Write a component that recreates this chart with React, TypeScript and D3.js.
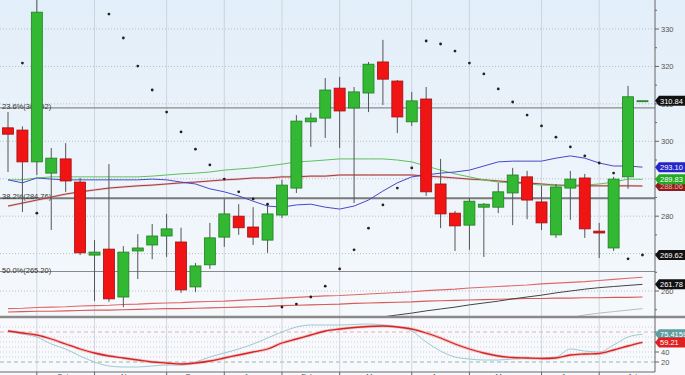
import React from "react";
import * as d3 from "d3";

// weekly candles
const open = [303.6, 303.0, 294.5, 291.5, 295.3, 289.1, 269.6, 271.2, 258.4, 270.7, 272.3, 274.7, 273.1, 261.1, 267.0, 274.4, 280.0, 277.1, 273.6, 280.3, 287.5, 305.2, 306.2, 314.2, 308.9, 312.9, 321.2, 316.1, 305.2, 311.3, 288.6, 280.8, 277.6, 282.4, 282.4, 286.2, 290.5, 283.8, 275.0, 287.5, 290.2, 276.0, 271.5, 290.5, 310.84];
const high = [307.8, 304.0, 339.0, 298.2, 299.5, 290.2, 273.6, 293.9, 272.0, 275.2, 277.9, 280.6, 276.9, 267.5, 278.2, 284.6, 283.2, 282.4, 283.0, 289.7, 307.0, 307.6, 316.9, 317.2, 314.5, 321.2, 327.1, 316.4, 313.2, 314.5, 295.3, 281.4, 284.8, 283.5, 288.9, 292.9, 292.1, 288.1, 288.6, 292.1, 291.3, 278.2, 290.5, 314.8, 310.84];
const low = [291.8, 281.1, 291.0, 276.3, 286.5, 269.6, 257.3, 257.1, 255.7, 263.2, 268.5, 269.1, 259.5, 259.7, 265.9, 271.8, 275.0, 272.3, 270.2, 279.5, 286.2, 298.5, 300.9, 298.2, 283.5, 307.8, 309.7, 302.2, 304.1, 285.4, 276.8, 270.7, 271.0, 269.1, 280.8, 277.6, 279.2, 276.3, 274.2, 279.0, 274.2, 268.8, 270.7, 287.3, 310.84];
const close = [301.9, 294.5, 334.5, 295.5, 289.4, 270.2, 270.4, 257.9, 270.4, 271.5, 274.7, 276.6, 260.3, 266.7, 274.2, 280.6, 276.9, 274.4, 280.6, 288.3, 305.4, 306.2, 313.7, 308.1, 313.2, 320.6, 316.6, 306.5, 310.8, 286.5, 280.6, 277.4, 284.0, 283.2, 286.5, 291.0, 284.3, 278.2, 287.8, 289.9, 276.6, 275.5, 289.9, 311.9, 310.84];

// moving averages
const maBlue = [289.7, 288.9, 290.2, 289.9, 289.7, 289.7, 289.7, 289.7, 289.7, 289.7, 289.9, 289.7, 289.1, 288.6, 287.3, 286.5, 285.4, 284.0, 282.7, 282.4, 283.0, 283.2, 282.4, 281.9, 282.7, 284.3, 286.7, 288.9, 290.5, 291.0, 291.5, 291.8, 292.3, 293.4, 294.5, 294.7, 294.7, 294.7, 295.5, 296.1, 295.5, 294.2, 293.4, 293.4, 293.1];
const maGreen = [289.7, 289.7, 290.2, 290.5, 290.5, 290.5, 290.5, 290.5, 290.5, 290.5, 290.7, 291.0, 291.3, 291.5, 291.8, 292.3, 292.6, 292.9, 293.4, 293.9, 294.5, 294.7, 295.0, 295.3, 295.3, 295.3, 295.3, 295.0, 294.5, 293.4, 292.3, 291.3, 290.5, 289.7, 289.1, 288.9, 288.6, 288.3, 288.3, 288.3, 288.3, 288.6, 289.1, 289.9, 289.83];
const maRed = [282.7, 283.5, 284.3, 285.1, 285.9, 286.5, 287.0, 287.5, 287.8, 288.1, 288.3, 288.6, 288.9, 289.1, 289.4, 289.7, 289.9, 290.2, 290.2, 290.5, 290.5, 290.7, 290.7, 291.0, 291.0, 291.0, 291.0, 291.0, 291.0, 290.7, 290.5, 290.2, 289.9, 289.7, 289.4, 289.1, 288.9, 288.6, 288.3, 288.1, 288.1, 288.1, 288.1, 288.1, 288.06];
const maLongA = [255.3, 255.4, 255.6, 255.7, 255.8, 256.0, 256.1, 256.2, 256.4, 256.5, 256.7, 256.8, 256.9, 257.1, 257.2, 257.3, 257.5, 257.7, 257.9, 258.1, 258.3, 258.5, 258.7, 258.8, 259.0, 259.2, 259.4, 259.6, 259.8, 260.1, 260.3, 260.5, 260.8, 261.0, 261.2, 261.4, 261.6, 261.9, 262.1, 262.3, 262.5, 262.8, 263.1, 263.4, 263.7];
const maLongB = [254.4, 254.5, 254.6, 254.6, 254.7, 254.8, 254.9, 254.9, 255.0, 255.1, 255.2, 255.3, 255.3, 255.4, 255.5, 255.6, 255.7, 255.8, 255.9, 256.1, 256.2, 256.3, 256.4, 256.5, 256.7, 256.8, 256.9, 257.0, 257.1, 257.3, 257.4, 257.5, 257.6, 257.7, 257.8, 257.9, 258.0, 258.0, 258.1, 258.1, 258.2, 258.2, 258.3, 258.3, 258.4];
const maBlack = [null, null, null, null, null, null, null, null, null, null, null, null, null, null, null, null, null, null, null, null, null, null, null, null, null, 252.6, 253.1, 253.6, 254.1, 254.7, 255.2, 255.7, 256.3, 256.8, 257.3, 257.9, 258.4, 258.9, 259.5, 260.0, 260.5, 260.9, 261.2, 261.5, 261.78];
const maGray = [null, null, null, null, null, null, null, null, null, null, null, null, null, null, null, null, null, null, null, null, null, null, null, null, null, null, null, null, null, null, null, null, null, null, null, null, null, null, null, 252.9, 253.6, 254.1, 254.5, 254.9, 255.3];

// parabolic SAR
const sar = [null, 320.9, 280.8, null, null, null, null, 334.0, 327.6, 320.1, 313.7, 307.8, 302.5, 297.9, 293.7, 289.9, 286.5, 284.6, 283.2, 255.7, 256.5, 258.4, 261.3, 265.9, 271.0, 276.8, 283.0, 287.5, 292.9, 326.8, 326.0, 324.1, 320.9, 318.0, 314.0, 310.5, 307.0, 304.1, 301.1, 298.5, 296.1, 294.2, 291.5, 268.6, 269.62];

// stochastic
const stochK = [82, 76, 70, 56, 46, 32, 20, 12, 10, 10, 12, 14, 14, 20, 30, 38, 46, 56, 68, 80, 90, 94, 94, 94, 95, 96, 94, 90, 82, 60, 42, 30, 26, 24, 24, 26, 27, 28, 30, 46, 42, 40, 54, 70, 75.4159];
const stochD = [82, 78, 74, 66, 56, 46, 38, 32, 28, 24, 20, 18, 16, 18, 22, 28, 34, 40, 46, 58, 66, 74, 82, 86, 89, 91, 92, 90, 86, 78, 68, 56, 46, 38, 32, 29, 28, 27, 28, 34, 36, 37, 44, 52, 59.21];

const fibNames = ["23.6%", "38.2%", "50.0%"];
const fibValues = [308.92, 284.76, 265.2];

const priceTicks = [260, 270, 280, 290, 300, 310, 320, 330];
const stochTicks = [20, 40, 60, 80];

const months = ["Sep", "Oct", "Nov", "Dec", "Jan", "Feb", "Mar", "Apr", "May", "Jun", "Jul"];
const monthStarts = [-3, 2, 6, 11, 15, 19, 23, 28, 32, 37, 41, 46];

const W = 685;
const H = 375;
const AX = 655;
const PANE_BOTTOM = 317;

export default function App() {
  const x = d3.scaleLinear().domain([-0.555, 44.87]).range([0, AX]);
  const yP = d3.scaleLinear().domain([253.06, 337.75]).range([PANE_BOTTOM, 0]);
  const yS = d3.scaleLinear().domain([0, 100]).range([372, 322]);

  const lineP = (vals: (number | null)[]) =>
    d3
      .line<number | null>()
      .defined((v) => v != null)
      .x((_, i) => x(i))
      .y((v) => yP(v as number))(vals) || "";
  const lineS = (vals: number[]) =>
    d3
      .line<number>()
      .x((_, i) => x(i))
      .y((v) => yS(v))
      .curve(d3.curveMonotoneX)(vals) || "";

  const bw = 11;
  const last = close.length - 1;

  const tag = (v: number, y: number, fill: string, txt: string, color = "#fff") => (
    <g key={txt + fill}>
      <path d={`M${AX},${y} L${AX + 4},${y - 5} L${W},${y - 5} L${W},${y + 5} L${AX + 4},${y + 5} Z`} fill={fill} />
      <text x={AX + 5} y={y + 3} fontSize={7.5} fill={color}>
        {txt}
      </text>
    </g>
  );

  return (
    <svg
      width={W}
      height={H}
      style={{ position: "absolute", left: 0, top: 0, display: "block" }}
      fontFamily="'Liberation Sans', Arial, sans-serif"
    >
      <defs>
        <linearGradient id="bg" x1="0" y1="0" x2="0" y2="1">
          <stop offset="0" stopColor="#e2eef9" />
          <stop offset="1" stopColor="#f6f9fc" />
        </linearGradient>
        <clipPath id="cp">
          <rect x={0} y={0} width={AX} height={PANE_BOTTOM - 1} />
        </clipPath>
        <clipPath id="cs">
          <rect x={0} y={319} width={AX} height={53} />
        </clipPath>
      </defs>

      <rect x={0} y={0} width={W} height={PANE_BOTTOM} fill="url(#bg)" />
      <rect x={0} y={PANE_BOTTOM} width={W} height={H - PANE_BOTTOM} fill="#f7f9fc" />

      {/* horizontal grid */}
      {priceTicks.map((t) => (
        <line key={t} x1={0} x2={AX} y1={yP(t)} y2={yP(t)} stroke="#a9b3bd" strokeWidth={0.8} strokeDasharray="1,2" />
      ))}
      {[30, 40, 50, 60, 70, 90].map((t) => (
        <line key={"s" + t} x1={0} x2={AX} y1={yS(t)} y2={yS(t)} stroke="#b8c0c8" strokeWidth={0.7} strokeDasharray="1,2" />
      ))}
      <line x1={0} x2={AX} y1={yS(80)} y2={yS(80)} stroke="#e2a0a0" strokeWidth={0.8} strokeDasharray="4,3" />
      <line x1={0} x2={AX} y1={yS(20)} y2={yS(20)} stroke="#7fa89a" strokeWidth={0.8} strokeDasharray="4,3" />

      {/* vertical month grid */}
      {monthStarts
        .filter((m) => m >= 0 && m <= last)
        .map((m) => (
          <line key={"v" + m} x1={x(m)} x2={x(m)} y1={0} y2={372} stroke="#c5ced7" strokeWidth={0.8} />
        ))}

      {/* fibonacci */}
      {fibValues.map((v, i) => (
        <g key={"f" + i}>
          <line x1={0} x2={AX} y1={yP(v)} y2={yP(v)} stroke={i === 1 ? "#7a7a7a" : "#8a8a8a"} strokeWidth={i === 1 ? 2 : 1.1} />
          <text x={2} y={yP(v) + 1} fontSize={7.5} fill="#333">
            {`${fibNames[i]}(${v.toFixed(2)})`}
          </text>
        </g>
      ))}

      <g clipPath="url(#cp)">
        <path d={lineP(maLongA)} fill="none" stroke="#e06868" strokeWidth={1.1} />
        <path d={lineP(maLongB)} fill="none" stroke="#d85a5a" strokeWidth={1.1} />
        <path d={lineP(maBlack)} fill="none" stroke="#444" strokeWidth={1} />
        <path d={lineP(maGray)} fill="none" stroke="#b9bcbf" strokeWidth={1} />
        <path d={lineP(maRed)} fill="none" stroke="#e0a0a0" strokeWidth={2.2} opacity={0.5} />
        <path d={lineP(maRed)} fill="none" stroke="#a83a3a" strokeWidth={1} />
        <path d={lineP(maGreen)} fill="none" stroke="#5cc25c" strokeWidth={1} />
        <path d={lineP(maBlue)} fill="none" stroke="#4848c8" strokeWidth={1} />

        {close.map((c, i) => {
          const up = c >= open[i];
          const top = yP(Math.max(open[i], c));
          const h = Math.max(1, Math.abs(yP(open[i]) - yP(c)));
          return (
            <g key={"c" + i}>
              <line x1={x(i)} x2={x(i)} y1={yP(high[i])} y2={yP(low[i])} stroke="#555" strokeWidth={1} />
              <rect
                x={x(i) - bw / 2}
                y={top}
                width={bw}
                height={h}
                fill={up ? "#33b833" : "#f01414"}
                stroke={up ? "#1f7f1f" : "#a01010"}
                strokeWidth={0.8}
              />
            </g>
          );
        })}

        {sar.map((v, i) =>
          v == null ? null : <circle key={"p" + i} cx={x(i)} cy={yP(v)} r={1.4} fill="#222" />
        )}
      </g>

      {/* stochastic */}
      <g clipPath="url(#cs)">
        <path d={lineS(stochK)} fill="none" stroke="#9cc9d2" strokeWidth={1} />
        <path d={lineS(stochD)} fill="none" stroke="#f3a0a0" strokeWidth={3} opacity={0.6} />
        <path d={lineS(stochD)} fill="none" stroke="#d42626" strokeWidth={1.3} />
      </g>

      {/* pane separator and axes */}
      <line x1={0} x2={W} y1={PANE_BOTTOM} y2={PANE_BOTTOM} stroke="#8a8a8a" strokeWidth={2.5} />
      <line x1={AX} x2={AX} y1={0} y2={372} stroke="#666" strokeWidth={1} />
      <line x1={0} x2={AX} y1={372} y2={372} stroke="#666" strokeWidth={1} />

      {d3.range(255, 340, 5).map((t) => (
        <line key={"mt" + t} x1={AX} x2={AX + (t % 10 === 0 ? 4 : 2)} y1={yP(t)} y2={yP(t)} stroke="#666" />
      ))}
      {priceTicks.map((t) => (
        <text key={"pt" + t} x={AX + 6} y={yP(t) + 2.7} fontSize={7.5} fill="#555">
          {t}
        </text>
      ))}
      {stochTicks.map((t) => (
        <g key={"st" + t}>
          <line x1={AX} x2={AX + 4} y1={yS(t)} y2={yS(t)} stroke="#666" />
          <text x={AX + 6} y={yS(t) + 2.7} fontSize={7.5} fill="#555">
            {t}
          </text>
        </g>
      ))}

      {monthStarts.slice(1, -1).map((m) => (
        <line key={"mk" + m} x1={x(m)} x2={x(m)} y1={372} y2={375} stroke="#666" />
      ))}
      {months.map((m, i) => (
        <text
          key={m}
          x={x((monthStarts[i] + monthStarts[i + 1]) / 2) - 3}
          y={379}
          fontSize={7.5}
          fill="#555"
          textAnchor="middle"
        >
          {m}
        </text>
      ))}

      {/* value tags */}
      {tag(close[last], yP(close[last]), "#111", close[last].toFixed(2))}
      {tag(maRed[last], yP(maRed[last]), "#8e1c1c", maRed[last].toFixed(2), "#f0b0b0")}
      {tag(maGreen[last], yP(maGreen[last]), "#22aa22", maGreen[last].toFixed(2))}
      {tag(maBlue[last], yP(maBlue[last]), "#2525c8", maBlue[last].toFixed(2))}
      {tag(sar[last] as number, yP(sar[last] as number), "#111", (sar[last] as number).toFixed(2))}
      {tag(maBlack[last] as number, yP(maBlack[last] as number), "#111", (maBlack[last] as number).toFixed(2))}
      {tag(stochK[last], yS(stochK[last]), "#5f9ea0", stochK[last].toFixed(4))}
      {tag(stochD[last], yS(stochD[last]), "#e02020", stochD[last].toFixed(2))}
    </svg>
  );
}
